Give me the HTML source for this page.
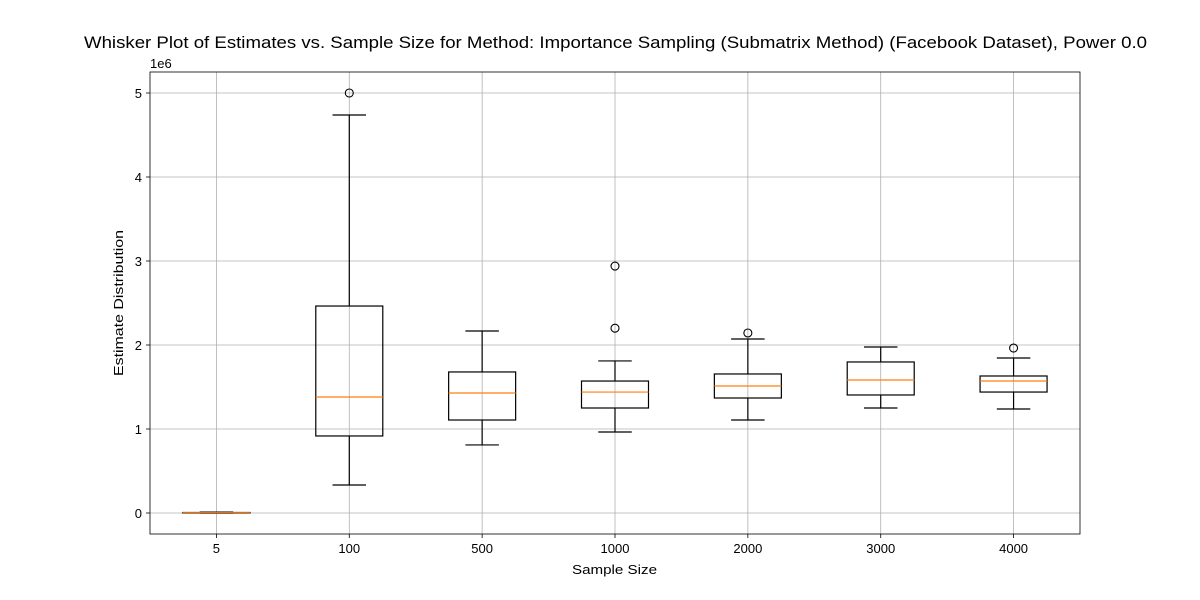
<!DOCTYPE html>
<html><head><meta charset="utf-8"><style>
html,body{margin:0;padding:0;background:#fff;}
svg{display:block;font-family:"Liberation Sans",sans-serif;}
</style></head><body>
<svg id="chart" width="1200" height="600"></svg>
<script>
const categories = ["5","100","500","1000","2000","3000","4000"];
const whiskerLow = [0.0, 0.333, 0.81, 0.964, 1.107, 1.25, 1.238];
const q1Values = [0.002, 0.917, 1.107, 1.25, 1.369, 1.405, 1.44];
const medianValues = [0.004, 1.381, 1.429, 1.44, 1.512, 1.583, 1.571];
const q3Values = [0.006, 2.464, 1.679, 1.571, 1.655, 1.798, 1.631];
const whiskerHigh = [0.01, 4.738, 2.167, 1.81, 2.071, 1.976, 1.845];
const outliers = [[], [5.0], [], [2.2, 2.94], [2.143], [], [1.964]];
const yTicks = [0,1,2,3,4,5];

const NS="http://www.w3.org/2000/svg";
const svg=document.getElementById('chart');
const L=150,R=1080,T=72,B=534,yMin=-0.25,yMax=5.25;
const yS=v=>B-(v-yMin)/(yMax-yMin)*(B-T);
const step=(R-L)/categories.length;
const xS=i=>L+step*(i+0.5);
const bw=67;
function el(tag,attrs,parent){const e=document.createElementNS(NS,tag);for(const k in attrs)e.setAttribute(k,attrs[k]);(parent||svg).appendChild(e);return e;}
function txt(s,attrs){const e=el('text',attrs);e.textContent=s;return e;}

yTicks.forEach(t=>{
  const g=el('line',{x1:L,x2:R,y1:yS(t),y2:yS(t),stroke:'#b0b0b0','stroke-width':0.8});
  
  
  el('line',{x1:L-4,x2:L,y1:yS(t),y2:yS(t),stroke:'#000','stroke-width':0.8});
  const l=txt(String(t),{x:L-8,y:yS(t)+5,'text-anchor':'end','font-size':13});
  
  
});
categories.forEach((c,i)=>{
  const g=el('line',{x1:xS(i),x2:xS(i),y1:T,y2:B,stroke:'#b0b0b0','stroke-width':0.8});
  
  
  el('line',{x1:xS(i),x2:xS(i),y1:B,y2:B+4,stroke:'#000','stroke-width':0.8});
  const l=txt(c,{x:xS(i),y:B+19,'text-anchor':'middle','font-size':13});
  
  
});
categories.forEach((c,i)=>{
  const g=el('g',{});
  
  
  const x=xS(i);
  el('line',{x1:x,x2:x,y1:yS(whiskerLow[i]),y2:yS(q1Values[i]),stroke:'#000','stroke-width':1.2},g);
  el('line',{x1:x,x2:x,y1:yS(q3Values[i]),y2:yS(whiskerHigh[i]),stroke:'#000','stroke-width':1.2},g);
  el('line',{x1:x-bw/4,x2:x+bw/4,y1:yS(whiskerLow[i]),y2:yS(whiskerLow[i]),stroke:'#000','stroke-width':1.2},g);
  el('line',{x1:x-bw/4,x2:x+bw/4,y1:yS(whiskerHigh[i]),y2:yS(whiskerHigh[i]),stroke:'#000','stroke-width':1.2},g);
  el('rect',{x:x-bw/2,y:yS(q3Values[i]),width:bw,height:Math.max(0.5,yS(q1Values[i])-yS(q3Values[i])),fill:'none',stroke:'#000','stroke-width':1.2},g);
  el('line',{x1:x-bw/2,x2:x+bw/2,y1:yS(medianValues[i]),y2:yS(medianValues[i]),stroke:'#ff7f0e','stroke-width':1.2},g);
  outliers[i].forEach(v=>{
    const o=el('circle',{cx:x,cy:yS(v),r:4,fill:'none',stroke:'#000','stroke-width':1.1},g);
    
    
  });
});
const fr=el('rect',{x:L,y:T,width:R-L,height:B-T,fill:'none',stroke:'#000','stroke-width':0.8});


const ex=txt('1e6',{x:L,y:T-4,'font-size':13});


const ti=txt('Whisker Plot of Estimates vs. Sample Size for Method: Importance Sampling (Submatrix Method) (Facebook Dataset), Power 0.0',{x:84,y:48,'font-size':17,textLength:1063,lengthAdjust:'spacingAndGlyphs'});


const xt=txt('Sample Size',{x:572,y:574,'font-size':13,textLength:85,lengthAdjust:'spacingAndGlyphs'});


const yt=txt('Estimate Distribution',{x:0,y:0,'text-anchor':'middle','font-size':13,textLength:146,lengthAdjust:'spacingAndGlyphs',transform:'translate(123,303) rotate(-90)'});


</script>
</body></html>
